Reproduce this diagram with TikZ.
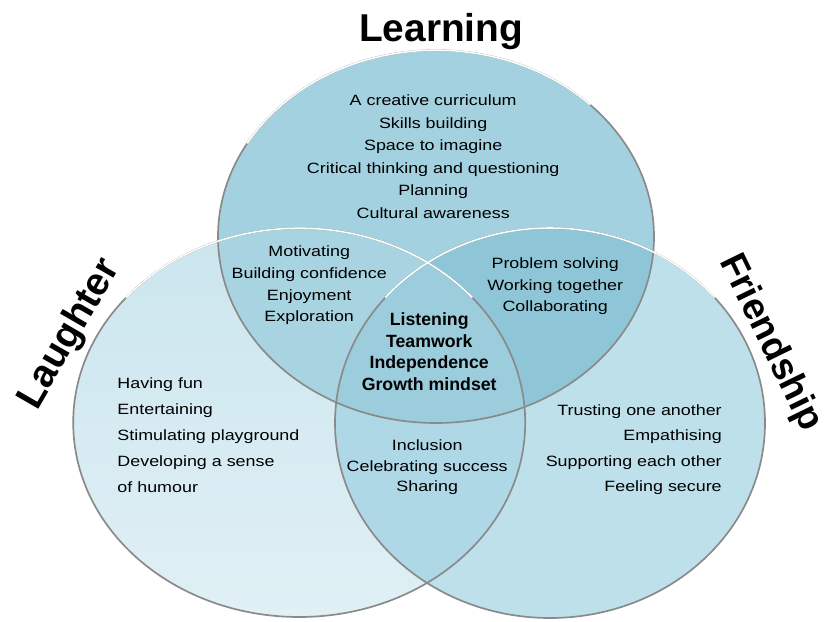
\documentclass[tikz,border=0pt]{standalone}
\usepackage{fontspec}
\setmainfont{Liberation Sans}
\newfontfamily\listfont[FakeStretch=1.2]{Liberation Sans}
\usepackage{tikz}

\definecolor{learnfill}{RGB}{164,209,223}
\definecolor{laughtop}{RGB}{203,229,238}
\definecolor{laughbottom}{RGB}{224,240,245}
\definecolor{friendfill}{RGB}{189,224,234}
\definecolor{learnlaughfill}{RGB}{168,211,225}
\definecolor{learnfriendfill}{RGB}{143,198,215}
\definecolor{laughfriendfill}{RGB}{174,216,230}
\definecolor{corefill}{RGB}{156,205,221}
\definecolor{rimgray}{RGB}{138,138,138}

\tikzset{
  learnset/.style={x radius=5.45,y radius=4.66},
  laughset/.style={x radius=5.65,y radius=4.86},
  friendset/.style={x radius=5.375,y radius=4.875},
  rim/.style={draw=rimgray,line width=1.2pt},
  glint/.style={draw=white,line width=1.1pt},
  title/.style={font=\bfseries\fontsize{27.6}{30}\selectfont,inner sep=0pt},
  items/.style={font=\listfont\fontsize{10.6}{#1}\selectfont,align=center,inner sep=0pt},
  items/.default=16,
  core/.style={font=\bfseries\fontsize{12.6}{15.4}\selectfont,align=center,inner sep=0pt}
}

\begin{document}
\begin{tikzpicture}
\path[fill=white] (0,0) rectangle (20.675,15.525);
\useasboundingbox (0,0) rectangle (20.675,15.525);

\coordinate (T) at (10.90,9.61);
\coordinate (L) at (7.48,4.96);
\coordinate (R) at (13.75,4.95);

% the three sets
\fill[learnfill] (T) ellipse [learnset];
\shade[top color=laughtop,bottom color=laughbottom] (L) ellipse [laughset];
\fill[friendfill] (R) ellipse [friendset];

% overlaps
\begin{scope}
\clip (T) ellipse [learnset];
\fill[learnlaughfill] (L) ellipse [laughset];
\end{scope}
\begin{scope}
\clip (T) ellipse [learnset];
\fill[learnfriendfill] (R) ellipse [friendset];
\end{scope}
\begin{scope}
\clip (L) ellipse [laughset];
\fill[laughfriendfill] (R) ellipse [friendset];
\end{scope}
\begin{scope}
\clip (T) ellipse [learnset];
\clip (L) ellipse [laughset];
\fill[corefill] (R) ellipse [friendset];
\end{scope}

% rims
\draw[rim] (T) ellipse [learnset];
\draw[rim] (L) ellipse [laughset];
\draw[rim] (R) ellipse [friendset];
\draw[glint] (T) ++(45:5.45 and 4.66) arc (45:150:5.45 and 4.66);
\draw[glint] (L) ++(40:5.65 and 4.86) arc (40:140:5.65 and 4.86);
\draw[glint] (R) ++(40:5.375 and 4.875) arc (40:140:5.375 and 4.875);

% set names
\node[title,anchor=base] (learning) at (11.03,14.48) {Learning};
\node[title,rotate=60] (laughter) at (1.75,7.17) {Laughter};
\node[title,font=\bfseries\fontsize{26.6}{30}\selectfont,rotate=-64] (friendship) at (19.25,6.95) {Friendship};

% contents
\node[items] (learnlist) at (10.83,11.61) {A creative curriculum\\Skills building\\Space to imagine\\Critical thinking and questioning\\Planning\\Cultural awareness};
\node[items=15.4] (learnlaugh) at (7.73,8.39) {Motivating\\Building confidence\\Enjoyment\\Exploration};
\node[items=15.3] (learnfriend) at (13.88,8.36) {Problem solving\\Working together\\Collaborating};
\node[core] (centre) at (10.73,6.73) {Listening\\Teamwork\\Independence\\Growth mindset};
\node[items=14.5] (laughfriend) at (10.68,3.84) {Inclusion\\Celebrating success\\Sharing};
\node[items=18.4,align=left,anchor=west] (laughlist) at (2.93,4.65) {Having fun\\Entertaining\\Stimulating playground\\Developing a sense\\of humour};
\node[items=18.1,align=right,anchor=east] (friendlist) at (18.05,4.28) {Trusting one another\\Empathising\\Supporting each other\\Feeling secure};

\end{tikzpicture}
\end{document}
